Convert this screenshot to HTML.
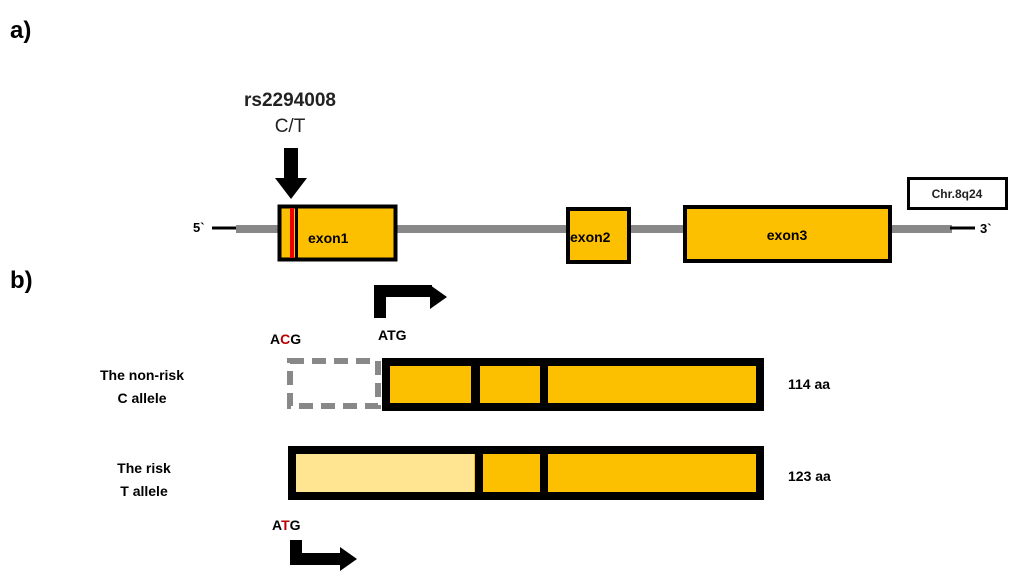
<!DOCTYPE html>
<html><head><meta charset="utf-8"><style>
html,body{margin:0;padding:0;background:#fff;}
svg{display:block;font-family:"Liberation Sans",sans-serif;font-weight:bold;}
</style></head><body>
<svg width="1024" height="581" viewBox="0 0 1024 581">
<text x="10" y="38" font-size="24">a)</text>
<text x="10" y="288" font-size="24">b)</text>
<text x="290" y="106" font-size="19" text-anchor="middle" fill="#222">rs2294008</text>
<text x="290" y="132" font-size="19" text-anchor="middle" fill="#222" font-weight="normal">C/T</text>
<rect x="284" y="148" width="14" height="32" fill="#000"/>
<polygon points="275,178 307,178 291,199" fill="#000"/>
<!-- gene line -->
<line x1="212" y1="228" x2="240" y2="228" stroke="#000" stroke-width="3"/>
<line x1="236" y1="229" x2="952" y2="229" stroke="#888" stroke-width="8"/>
<line x1="950" y1="228" x2="975" y2="228" stroke="#000" stroke-width="3"/>
<text x="193" y="232" font-size="13">5`</text>
<text x="980" y="233" font-size="13">3`</text>
<!-- exon1 -->
<rect x="279.5" y="206.5" width="116" height="53" fill="#fdc000" stroke="#000" stroke-width="4"/>
<rect x="290" y="208" width="4" height="50" fill="#e00"/>
<rect x="295" y="208" width="3" height="50" fill="#000"/>
<text x="308" y="243" font-size="14">exon1</text>
<rect x="568" y="209" width="61" height="53" fill="#fdc000" stroke="#000" stroke-width="4"/>
<text x="570" y="242" font-size="14">exon2</text>
<rect x="685" y="207" width="205" height="54" fill="#fdc000" stroke="#000" stroke-width="4"/>
<text x="787" y="240" font-size="14" text-anchor="middle">exon3</text>
<rect x="908.5" y="178.5" width="98" height="30" fill="#fff" stroke="#000" stroke-width="3"/>
<text x="957" y="198" font-size="12" text-anchor="middle" fill="#222">Chr.8q24</text>
<!-- b top arrow -->
<path d="M380,318 V291 H432" fill="none" stroke="#000" stroke-width="12"/>
<polygon points="430,285 447,297 430,309" fill="#000"/>
<text x="378" y="340" font-size="14">ATG</text>
<text x="270" y="344" font-size="14">A<tspan fill="#b00">C</tspan>G</text>
<!-- dashed -->
<rect x="290" y="361" width="88" height="45" fill="none" stroke="#888" stroke-width="6" stroke-dasharray="14,8"/>
<!-- upper bar -->
<rect x="386" y="362" width="374" height="45" fill="#fdc000" stroke="#000" stroke-width="8"/>
<rect x="471" y="362" width="9" height="45" fill="#000"/>
<rect x="540" y="362" width="8" height="45" fill="#000"/>
<!-- lower bar -->
<rect x="292" y="450" width="468" height="46" fill="#fdc000" stroke="#000" stroke-width="8"/>
<rect x="296" y="454" width="178" height="38" fill="#ffe592"/>
<rect x="475" y="450" width="8" height="46" fill="#000"/>
<rect x="540" y="450" width="8" height="46" fill="#000"/>
<text x="142" y="380" font-size="14" text-anchor="middle">The non-risk</text>
<text x="142" y="403" font-size="14" text-anchor="middle">C allele</text>
<text x="144" y="473" font-size="14" text-anchor="middle">The risk</text>
<text x="144" y="496" font-size="14" text-anchor="middle">T allele</text>
<text x="788" y="389" font-size="14">114 aa</text>
<text x="788" y="481" font-size="14">123 aa</text>
<text x="272" y="530" font-size="14">A<tspan fill="#b00">T</tspan>G</text>
<path d="M296,540 V559 H342" fill="none" stroke="#000" stroke-width="12"/>
<polygon points="340,547 357,559 340,571" fill="#000"/>
</svg>
</body></html>
